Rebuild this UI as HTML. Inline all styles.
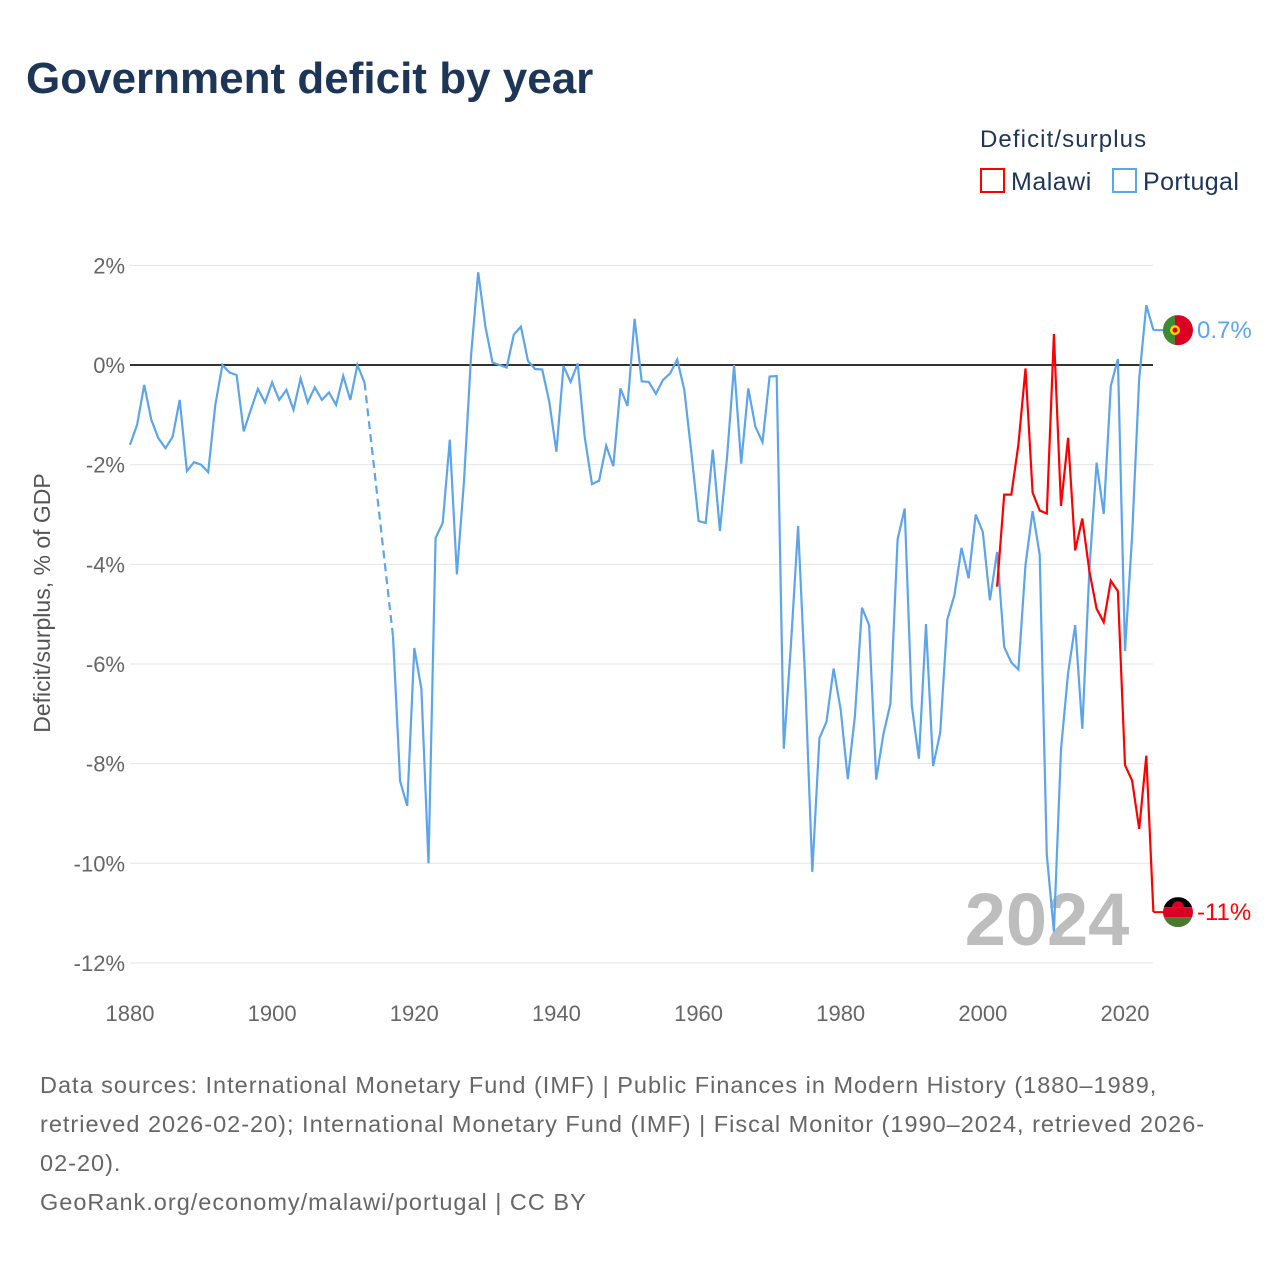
<!DOCTYPE html>
<html><head><meta charset="utf-8"><style>
html,body{margin:0;padding:0;background:#fff;width:1280px;height:1280px;overflow:hidden;font-family:"Liberation Sans",sans-serif}
</style></head><body>
<svg id="chart" width="1280" height="1280" viewBox="0 0 1280 1280" xmlns="http://www.w3.org/2000/svg">
<text x="26" y="93" font-size="44" font-weight="bold" fill="#1d3557">Government deficit by year</text>
<g>
<text x="980" y="147" font-size="24" letter-spacing="1.1" fill="#1d3557">Deficit/surplus</text>
<g><rect x="981" y="169" width="23" height="23" fill="none" stroke="#ff0000" stroke-width="2"/><text x="1011" y="190" font-size="25" letter-spacing="0.5" fill="#1d3557">Malawi</text></g>
<g><rect x="1113" y="169" width="23" height="23" fill="none" stroke="#5da5ea" stroke-width="2"/><text x="1143" y="190" font-size="25" letter-spacing="0.4" fill="#1d3557">Portugal</text></g>
</g>
<g id="grid"></g><g id="axes"></g>
<text x="1047" y="945" font-size="74" font-weight="bold" fill="#bdbdbd" text-anchor="middle">2024</text>
<g id="series"></g>
<text transform="translate(50,603) rotate(-90)" font-size="23" fill="#555" text-anchor="middle">Deficit/surplus, % of GDP</text>
<g font-size="23.5" fill="#666" letter-spacing="1">
<text x="40" y="1093">Data sources: International Monetary Fund (IMF) | Public Finances in Modern History (1880–1989,</text>
<text x="40" y="1132">retrieved 2026-02-20); International Monetary Fund (IMF) | Fiscal Monitor (1990–2024, retrieved 2026-</text>
<text x="40" y="1171">02-20).</text>
<text x="40" y="1210">GeoRank.org/economy/malawi/portugal | CC BY</text>
</g>
</svg>
<script>
const yTicks=[2,0,-2,-4,-6,-8,-10,-12];
const xTicks=[1880,1900,1920,1940,1960,1980,2000,2020];
const portugalStart=1880;
const portugalA=[-1.6,-1.2,-0.4,-1.1,-1.47,-1.67,-1.44,-0.7,-2.13,-1.95,-2.0,-2.15,-0.8,0,-0.15,-0.2,-1.33,-0.9,-0.48,-0.75,-0.35,-0.7,-0.5,-0.9,-0.27,-0.75,-0.45,-0.7,-0.55,-0.8,-0.22,-0.7,0,-0.35];
const portugalBStart=1917;
const portugalB=[-5.44,-8.35,-8.85,-5.68,-6.5,-10.0,-3.47,-3.17,-1.5,-4.2,-2.33,0.2,1.86,0.77,0.05,0,-0.05,0.61,0.77,0.08,-0.08,-0.09,-0.74,-1.74,-0.02,-0.34,0.03,-1.46,-2.39,-2.32,-1.62,-2.03,-0.47,-0.82,0.93,-0.33,-0.34,-0.58,-0.3,-0.17,0.11,-0.5,-1.78,-3.13,-3.17,-1.7,-3.33,-1.86,0,-1.98,-0.47,-1.24,-1.55,-0.23,-0.22,
-7.7,-5.6,-3.23,-6.34,-10.17,-7.49,-7.16,-6.09,-6.92,-8.31,-7.05,-4.87,-5.22,-8.32,-7.42,-6.8,-3.5,-2.88,-6.84,-7.9,-5.2,-8.05,-7.38,-5.11,-4.62,-3.67,-4.28,-3.0,-3.35,-4.72,-3.75,-5.66,-5.97,-6.11,-4.01,-2.93,-3.81,-9.83,-11.37,-7.71,-6.18,-5.22,-7.3,-4.1,-1.96,-2.99,-0.42,0.12,-5.74,-3.43,-0.27,1.2,0.7];
const malawiStart=2002;
const malawi=[-4.45,-2.6,-2.6,-1.6,-0.07,-2.56,-2.92,-2.98,0.62,-2.83,-1.46,-3.72,-3.08,-4.14,-4.89,-5.16,-4.33,-4.54,-8.03,-8.34,-9.31,-7.84,-10.98];
const portugalLabel="0.7%", malawiLabel="-11%";

const NS="http://www.w3.org/2000/svg";
const X=y=>130+(y-1880)*7.107;
const Y=v=>365-v*49.83;
function el(t,a,p){const e=document.createElementNS(NS,t);for(const k in a)e.setAttribute(k,a[k]);p.appendChild(e);return e;}
const grid=document.getElementById('grid'),axes=document.getElementById('axes'),ser=document.getElementById('series');
yTicks.forEach(v=>{
 const l=el('line',{x1:130,x2:1153,y1:Y(v),y2:Y(v),stroke:v===0?'#333':'#e6e6e6','stroke-width':v===0?2:1},grid);
 
 
 const t=el('text',{x:125,y:Y(v)+8,'font-size':22,fill:'#666','text-anchor':'end'},axes);
 t.textContent=v+'%';
 
 
});
xTicks.forEach(y=>{
 const t=el('text',{x:X(y),y:1021,'font-size':22,fill:'#666','text-anchor':'middle'},axes);
 t.textContent=y;
 
 
});
function pts(start,arr){return arr.map((v,i)=>X(start+i).toFixed(1)+','+Y(v).toFixed(1)).join(' ');}
let p=el('polyline',{points:pts(portugalStart,portugalA),fill:'none',stroke:'#5da5ea','stroke-width':2.2},ser);


const last=portugalA[portugalA.length-1];
p=el('line',{x1:X(portugalStart+portugalA.length-1),y1:Y(last),x2:X(portugalBStart),y2:Y(portugalB[0]),stroke:'#5da5ea','stroke-width':2.2,'stroke-dasharray':'8,5'},ser);


p=el('polyline',{points:pts(portugalBStart,portugalB),fill:'none',stroke:'#5da5ea','stroke-width':2.2},ser);


p=el('polyline',{points:pts(malawiStart,malawi),fill:'none',stroke:'#ff0000','stroke-width':2.2},ser);


const pe=portugalB[portugalB.length-1], me=malawi[malawi.length-1];
const xe=X(2024);
el('line',{x1:xe,y1:Y(pe),x2:xe+10,y2:Y(pe),stroke:'#5da5ea','stroke-width':2},ser);
el('line',{x1:xe,y1:Y(me),x2:xe+10,y2:Y(me),stroke:'#ff0000','stroke-width':2},ser);
const fx=1178;
let g=el('g',{},ser);


const cp1=el('clipPath',{id:'cp1'},g);el('circle',{cx:fx,cy:Y(pe),r:15},cp1);
el('rect',{x:fx-15,y:Y(pe)-15,width:30,height:30,fill:'#da0023','clip-path':'url(#cp1)'},g);
el('rect',{x:fx-15,y:Y(pe)-15,width:12,height:30,fill:'#3d8b32','clip-path':'url(#cp1)'},g);
el('circle',{cx:fx-3,cy:Y(pe),r:5,fill:'#ffd200'},g);
el('circle',{cx:fx-3,cy:Y(pe),r:2.5,fill:'#da0023'},g);
let t=el('text',{x:1197,y:Y(pe)+8,'font-size':24,fill:'#5da5ea'},ser);
t.textContent=portugalLabel;


g=el('g',{},ser);


const cp2=el('clipPath',{id:'cp2'},g);el('circle',{cx:fx,cy:Y(me),r:15},cp2);
el('rect',{x:fx-15,y:Y(me)-15,width:30,height:10,fill:'#000','clip-path':'url(#cp2)'},g);
el('rect',{x:fx-15,y:Y(me)-5,width:30,height:10,fill:'#da0023','clip-path':'url(#cp2)'},g);
el('rect',{x:fx-15,y:Y(me)+5,width:30,height:10,fill:'#4a7a30','clip-path':'url(#cp2)'},g);
el('path',{d:`M${fx-6},${Y(me)-5} A6,6 0 0 1 ${fx+6},${Y(me)-5}Z`,fill:'#da0023'},g);
t=el('text',{x:1197,y:Y(me)+8,'font-size':24,fill:'#ff0000'},ser);
t.textContent=malawiLabel;


</script>
</body></html>
